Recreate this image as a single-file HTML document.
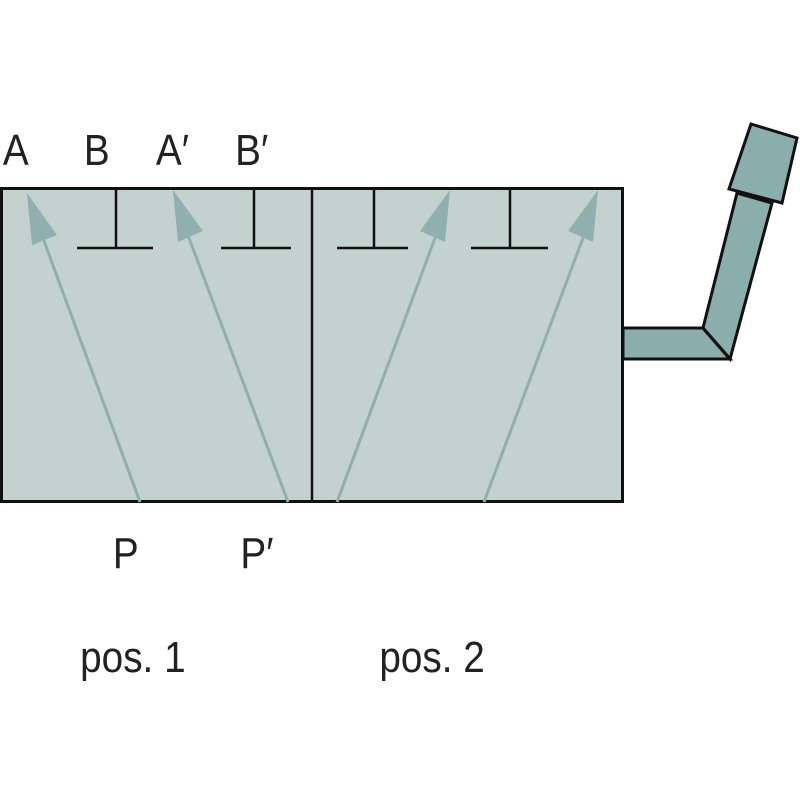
<!DOCTYPE html>
<html><head><style>body{margin:0;background:#fff}svg{display:block}</style></head><body>
<svg width="800" height="800" viewBox="0 0 800 800" xmlns="http://www.w3.org/2000/svg">
<rect x="1.5" y="188.5" width="621" height="313" fill="#c4d2cf" stroke="#111" stroke-width="3"/>
<line x1="312" y1="188" x2="312" y2="502" stroke="#111" stroke-width="2.5"/>
<g stroke="#111" stroke-width="2.5" fill="none">
<path d="M116 188V248M77 248H153"/>
<path d="M254 188V248M221 248H291"/>
<path d="M374 188V248M337 248H408"/>
<path d="M510 188V248M471 248H548"/>
</g>
<g stroke="#8fb0ae" stroke-width="3">
<line x1="140" y1="502" x2="40" y2="230"/>
<line x1="288" y1="502" x2="186" y2="230"/>
<line x1="337" y1="502" x2="438" y2="230"/>
<line x1="484" y1="502" x2="586" y2="230"/>
</g>
<g fill="#8fb0ae">
<polygon points="27,193 32,245 57,235"/>
<polygon points="173,190 178,242 203,231"/>
<polygon points="450,190 420,231 445,242"/>
<polygon points="598,190 568,231 593,242"/>
</g>
<g fill="#8aaeab" stroke="#111" stroke-width="3" stroke-linejoin="miter">
<polygon points="623,328 703,328 730,359 623,359"/>
<polygon points="703,328 737,193 772,203 730,359"/>
<line x1="703" y1="328" x2="730" y2="359"/>
<polygon points="751,124 797,138 782,203 729,189"/>
</g>
<g transform="scale(0.88,1)" font-family="Liberation Sans, sans-serif" font-size="44" fill="#222" text-anchor="middle">
<text x="18" y="165">A</text>
<text x="110" y="165">B</text>
<text x="196" y="165">A′</text>
<text x="286" y="165">B′</text>
<text x="143" y="568">P</text>
<text x="292" y="568">P′</text>
<text x="151" y="672">pos. 1</text>
<text x="491" y="672">pos. 2</text>
</g>
</svg>
</body></html>
